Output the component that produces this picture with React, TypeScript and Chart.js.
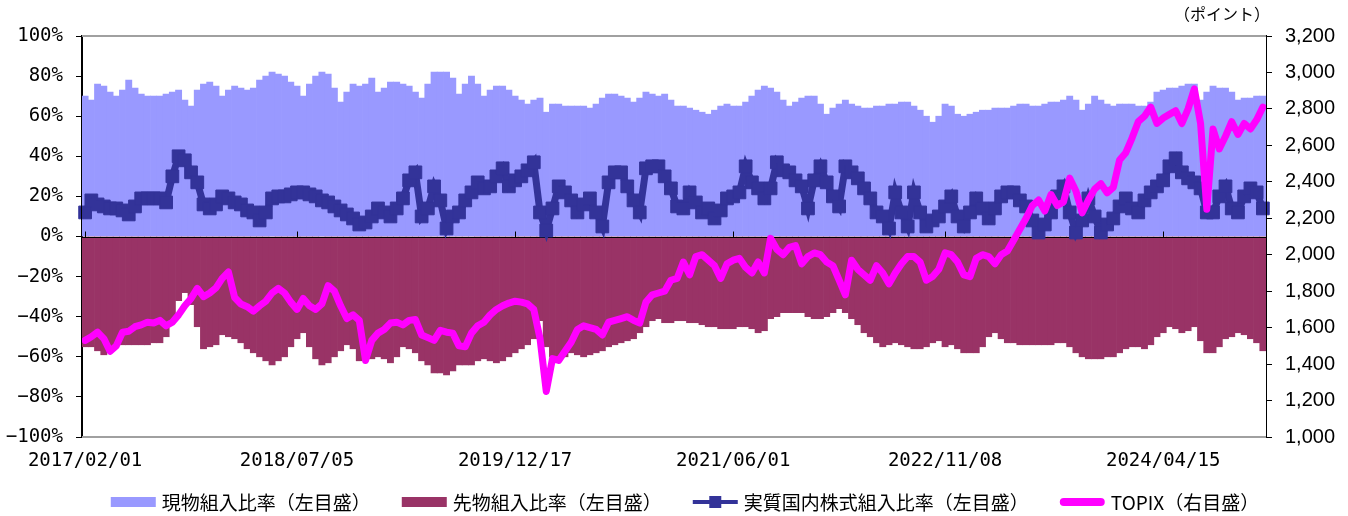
import { useEffect, useRef } from "react";
import { Chart, registerables } from "chart.js";

Chart.register(...registerables);

// Half-month categories from 2017/02 to 2024/12
const START_YEAR = 2017;
const START_MONTH = 2;
const POINT_COUNT = 190;
const categories: string[] = Array.from({ length: POINT_COUNT }, (_, i) => {
  const m = START_MONTH - 1 + Math.floor(i / 2);
  const y = START_YEAR + Math.floor(m / 12);
  const mm = String((m % 12) + 1).padStart(2, "0");
  return `${y}/${mm}/${i % 2 ? "16" : "01"}`;
});

const tickLabels = ["2017/02/01", "2018/07/05", "2019/12/17", "2021/06/01", "2022/11/08", "2024/04/15"];
const tickIndex = [0, 34, 69, 104, 138, 173];

const legendLabels = ["現物組入比率（左目盛）", "先物組入比率（左目盛）", "実質国内株式組入比率（左目盛）", "TOPIX（右目盛）"];
const unitLabel = "（ポイント）";

// 現物組入比率 (%)
const spotRatio = [
  70, 68, 76, 75, 72, 70, 73, 78, 74, 71,
  70, 70, 70, 71, 72, 73, 68, 65, 73, 76,
  77, 75, 70, 73, 75, 74, 73, 74, 78, 80,
  82, 81, 80, 77, 75, 70, 76, 80, 82, 81,
  74, 67, 72, 76, 75, 76, 79, 72, 74, 77,
  77, 76, 75, 72, 69, 76, 82, 82, 82, 79,
  71, 76, 80, 76, 70, 73, 75, 75, 73, 70,
  68, 66, 68, 69, 62, 66, 66, 65, 65, 65,
  65, 64, 66, 69, 71, 71, 70, 69, 67, 69,
  72, 71, 70, 71, 68, 65, 65, 64, 63, 62,
  61, 63, 65, 66, 65, 65, 67, 70, 73, 75,
  74, 72, 68, 65, 67, 69, 70, 70, 66, 61,
  64, 66, 68, 66, 65, 64, 64, 65, 65, 66,
  66, 67, 67, 65, 63, 60, 57, 60, 66, 65,
  61, 60, 61, 62, 63, 63, 64, 64, 64, 65,
  66, 66, 65, 65, 66, 67, 67, 68, 70, 68,
  63, 66, 70, 68, 66, 65, 66, 66, 66, 65,
  65, 67, 72, 73, 74, 74, 75, 76, 76, 68,
  72, 75, 74, 74, 72, 68, 69, 69, 70, 70,
];

// 先物組入比率 (%)
const futuresRatio = [
  -55, -55, -57, -59, -56, -54, -54, -54, -54, -54,
  -54, -53, -53, -50, -42, -32, -28, -34, -45, -56,
  -55, -54, -49, -50, -51, -53, -56, -58, -60, -62,
  -64, -62, -60, -55, -51, -48, -55, -61, -64, -63,
  -60, -57, -54, -56, -62, -61, -61, -60, -61, -63,
  -60, -55, -56, -58, -62, -64, -68, -68, -69, -67,
  -64, -64, -64, -62, -61, -62, -63, -62, -60, -58,
  -56, -54, -51, -42, -55, -60, -61, -60, -58, -59,
  -60, -59, -58, -57, -55, -54, -53, -52, -51, -48,
  -45, -42, -41, -43, -43, -42, -42, -43, -43, -44,
  -45, -45, -46, -46, -46, -45, -45, -46, -48, -47,
  -41, -40, -38, -38, -38, -38, -40, -41, -41, -40,
  -38, -36, -38, -41, -44, -48, -50, -53, -55, -54,
  -53, -54, -55, -56, -56, -55, -53, -52, -55, -54,
  -56, -58, -58, -58, -55, -50, -48, -51, -53, -53,
  -54, -54, -54, -54, -54, -54, -53, -53, -55, -58,
  -60, -61, -61, -61, -60, -60, -58, -56, -55, -55,
  -56, -54, -50, -48, -45, -46, -48, -47, -45, -52,
  -58, -58, -55, -51, -50, -48, -49, -51, -53, -57,
];

// 実質国内株式組入比率 (%)
const netRatio = [
  12, 18, 16, 15, 14, 14, 13, 11, 15, 19,
  19, 19, 19, 17, 30, 40, 38, 32, 27, 16,
  14, 16, 20, 19, 17, 16, 13, 12, 8, 12,
  19, 20, 20, 21, 22, 22, 21, 20, 18, 17,
  15, 13, 11, 9, 6, 7, 10, 14, 12, 10,
  14, 19, 28, 32, 10, 14, 25, 18, 4, 10,
  12, 18, 22, 27, 24, 25, 30, 34, 25, 28,
  30, 33, 37, 12, 3, 14, 25, 22, 18, 12,
  16, 19, 12, 5, 27, 32, 32, 25, 18, 12,
  34, 35, 35, 30, 24, 15, 14, 22, 17, 12,
  14, 9, 13, 19, 20, 22, 35, 27, 24, 19,
  24, 37, 33, 32, 28, 25, 14, 28, 35, 27,
  20, 15, 35, 32, 29, 24, 19, 12, 10, 4,
  22, 12, 5, 22, 12, 5, 8, 10, 15, 20,
  10, 5, 12, 19, 14, 9, 14, 20, 22, 22,
  18, 15, 8, 2, 6, 12, 20, 25, 12, 2,
  8, 19, 10, 2, 6, 9, 15, 19, 14, 12,
  18, 22, 25, 28, 35, 39, 32, 29, 27, 24,
  12, 12, 20, 25, 14, 12, 20, 24, 22, 14,
];

// TOPIX (points)
const topix = [
  1530, 1550, 1575, 1540, 1470, 1500, 1575, 1580, 1605, 1615,
  1630, 1625, 1640, 1610, 1630, 1670, 1720, 1760, 1815, 1770,
  1790, 1818, 1870, 1905, 1765, 1730, 1715, 1690, 1720, 1745,
  1790, 1815, 1790, 1740, 1700, 1760, 1720, 1700, 1730, 1830,
  1800, 1720, 1650, 1670, 1640, 1420, 1530, 1570, 1590, 1625,
  1630, 1615, 1640, 1645, 1560, 1545, 1530, 1585, 1575, 1570,
  1500, 1495, 1570, 1610, 1630, 1670, 1700, 1720, 1735, 1745,
  1740, 1730, 1700, 1540, 1250, 1430, 1420, 1470, 1520, 1590,
  1610, 1600, 1590, 1560, 1630, 1640, 1650, 1660, 1640, 1625,
  1740, 1780, 1790, 1800, 1860, 1870, 1960, 1890, 1990, 2000,
  1970, 1940, 1870, 1950, 1970, 1980, 1930, 1900, 1960, 1900,
  2090, 2030, 2000, 2040, 2050, 1950, 1990, 2010, 2000, 1960,
  1940, 1860, 1780, 1970, 1920, 1890, 1860, 1940, 1900, 1840,
  1900, 1950, 1990, 1990, 1960, 1860, 1880, 1920, 2010, 2000,
  1960, 1890, 1880, 1980, 2000, 1990, 1950, 2000, 2020, 2080,
  2140, 2200, 2270, 2300, 2240, 2330, 2270, 2290, 2420, 2350,
  2230, 2300, 2360, 2390, 2340, 2370, 2520, 2560, 2640, 2730,
  2760, 2810, 2720, 2750, 2770, 2790, 2720, 2800, 2910, 2720,
  2250, 2690, 2580, 2650, 2730, 2660, 2720, 2690, 2740, 2810,
];

const COLORS = {
  spot: "#9999FF",
  futures: "#993366",
  net: "#333399",
  topix: "#FF00FF",
};

const TICK_FONT = '"DejaVu Sans Mono", monospace';
const RIGHT_FONT = '"Liberation Sans", Arial, sans-serif';
const JP_FONT = '"Noto Sans CJK JP", sans-serif';

const decorPlugin = {
  id: "decor",
  afterDatasetDraw(chart: any, args: any) {
    if (args.index !== 2) return;
    const { ctx, chartArea } = chart;
    const y0 = Math.round(chart.scales.y.getPixelForValue(0)) + 0.5;
    ctx.save();
    ctx.strokeStyle = "#000";
    ctx.lineWidth = 1;
    ctx.beginPath();
    ctx.moveTo(chartArea.left, y0);
    ctx.lineTo(chartArea.right, y0);
    tickIndex.forEach((idx) => {
      const x = Math.round(chart.scales.x.getPixelForValue(idx)) + 0.5;
      ctx.moveTo(x, y0 - 6);
      ctx.lineTo(x, y0);
    });
    ctx.stroke();
    ctx.restore();
  },
  afterDraw(chart: any) {
    const { ctx, chartArea } = chart;
    ctx.save();
    // gray top / bottom frame
    ctx.strokeStyle = "#A0A0A0";
    ctx.lineWidth = 2;
    ctx.beginPath();
    ctx.moveTo(chartArea.left, chartArea.top);
    ctx.lineTo(chartArea.right, chartArea.top);
    ctx.moveTo(chartArea.left, chartArea.bottom);
    ctx.lineTo(chartArea.right, chartArea.bottom);
    ctx.stroke();
    // black axes on top of frame
    ctx.strokeStyle = "#000";
    ctx.lineWidth = 1;
    ctx.beginPath();
    ctx.moveTo(Math.round(chartArea.left) - 0.5, chartArea.top - 1);
    ctx.lineTo(Math.round(chartArea.left) - 0.5, chartArea.bottom + 1);
    ctx.moveTo(Math.round(chartArea.right) + 0.5, chartArea.top - 1);
    ctx.lineTo(Math.round(chartArea.right) + 0.5, chartArea.bottom + 1);
    ctx.stroke();

    // unit label
    ctx.fillStyle = "#000";
    ctx.font = `16px ${JP_FONT}`;
    ctx.textAlign = "center";
    ctx.textBaseline = "middle";
    ctx.fillText(unitLabel, chartArea.right - 44, 14);

    // legend
    ctx.font = `19px ${JP_FONT}`;
    ctx.textAlign = "left";
    const iconW = 45;
    const iconGap = 6;
    const itemGap = 31;
    const widths = legendLabels.map((t) => ctx.measureText(t).width);
    const total = widths.reduce((a, b) => a + b, 0) + legendLabels.length * (iconW + iconGap) + itemGap * (legendLabels.length - 1);
    let x = chart.width / 2 + 11 - total / 2;
    const yc = 502;
    legendLabels.forEach((label, k) => {
      if (k === 0 || k === 1) {
        ctx.fillStyle = k === 0 ? COLORS.spot : COLORS.futures;
        ctx.fillRect(x, yc - 5, iconW, 10);
      } else if (k === 2) {
        ctx.strokeStyle = COLORS.net;
        ctx.lineWidth = 4;
        ctx.lineCap = "butt";
        ctx.beginPath();
        ctx.moveTo(x, yc);
        ctx.lineTo(x + iconW, yc);
        ctx.stroke();
        ctx.fillStyle = COLORS.net;
        ctx.fillRect(x + iconW / 2 - 6, yc - 6, 12, 12);
      } else {
        ctx.strokeStyle = COLORS.topix;
        ctx.lineWidth = 8;
        ctx.lineCap = "round";
        ctx.beginPath();
        ctx.moveTo(x + 4, yc);
        ctx.lineTo(x + iconW - 4, yc);
        ctx.stroke();
      }
      ctx.fillStyle = "#000";
      ctx.fillText(label, x + iconW + iconGap, yc + 1);
      x += iconW + iconGap + widths[k] + itemGap;
    });
    ctx.restore();
  },
};

export default function App() {
  const canvasRef = useRef<HTMLCanvasElement | null>(null);

  useEffect(() => {
    if (!canvasRef.current) return;
    const chart = new Chart(canvasRef.current, {
      type: "bar",
      data: {
        labels: categories,
        datasets: [
          {
            type: "line",
            label: legendLabels[3],
            data: topix,
            yAxisID: "y1",
            borderColor: COLORS.topix,
            borderWidth: 7,
            pointRadius: 0,
            tension: 0,
            borderJoinStyle: "round",
            borderCapStyle: "round",
            order: 1,
          } as any,
          {
            type: "line",
            label: legendLabels[2],
            data: netRatio,
            yAxisID: "y",
            borderColor: COLORS.net,
            borderWidth: 7,
            borderJoinStyle: "miter",
            pointStyle: "rect",
            pointRadius: 9,
            pointBackgroundColor: COLORS.net,
            pointBorderColor: COLORS.net,
            pointBorderWidth: 1,
            tension: 0,
            order: 2,
          },
          {
            type: "bar",
            label: legendLabels[1],
            data: futuresRatio,
            yAxisID: "y",
            backgroundColor: COLORS.futures,
            borderWidth: 0,
            barPercentage: 1,
            categoryPercentage: 1,
            grouped: false,
            order: 3,
          } as any,
          {
            type: "bar",
            label: legendLabels[0],
            data: spotRatio,
            yAxisID: "y",
            backgroundColor: COLORS.spot,
            borderWidth: 0,
            barPercentage: 1,
            categoryPercentage: 1,
            grouped: false,
            order: 4,
          } as any,
        ],
      },
      options: {
        responsive: false,
        animation: false,
        devicePixelRatio: 1,
        events: [],
        layout: { padding: { top: 36, left: 0, right: 0, bottom: 0 } },
        plugins: {
          legend: { display: false },
          tooltip: { enabled: false },
          title: { display: false },
        },
        scales: {
          x: {
            type: "category",
            offset: true,
            grid: { display: false, drawTicks: false },
            border: { display: false },
            ticks: {
              autoSkip: false,
              maxRotation: 0,
              minRotation: 0,
              padding: 13,
              color: "#000",
              font: { family: TICK_FONT, size: 19 },
              callback: (_v: any, i: number) => {
                const k = tickIndex.indexOf(i);
                return k >= 0 ? tickLabels[k] : "";
              },
            },
            afterFit: (s: any) => {
              s.height = 79;
            },
          },
          y: {
            position: "left",
            min: -100,
            max: 100,
            grid: { drawOnChartArea: false, drawTicks: true, tickLength: 6, color: "#000" },
            border: { display: true, color: "#000", width: 1 },
            ticks: {
              stepSize: 20,
              padding: 13,
              color: "#000",
              font: { family: TICK_FONT, size: 19 },
              callback: (v: any) => (v < 0 ? "\u2212" + -v : String(v)) + "%",
            },
            afterFit: (s: any) => {
              s.width = 82;
            },
          },
          y1: {
            position: "right",
            min: 1000,
            max: 3200,
            grid: { drawOnChartArea: false, drawTicks: true, tickLength: 6, color: "#000" },
            border: { display: true, color: "#000", width: 1 },
            ticks: {
              stepSize: 200,
              padding: 13,
              color: "#000",
              font: { family: RIGHT_FONT, size: 20 },
              callback: (v: any) => Number(v).toLocaleString("en-US"),
            },
            afterFit: (s: any) => {
              s.width = 82;
            },
          },
        },
      },
      plugins: [decorPlugin],
    });
    return () => chart.destroy();
  }, []);

  return (
    <div style={{ position: "fixed", left: 0, top: 0, width: 1348, height: 516, background: "#fff" }}>
      <canvas ref={canvasRef} width={1348} height={516} style={{ display: "block" }} />
    </div>
  );
}
